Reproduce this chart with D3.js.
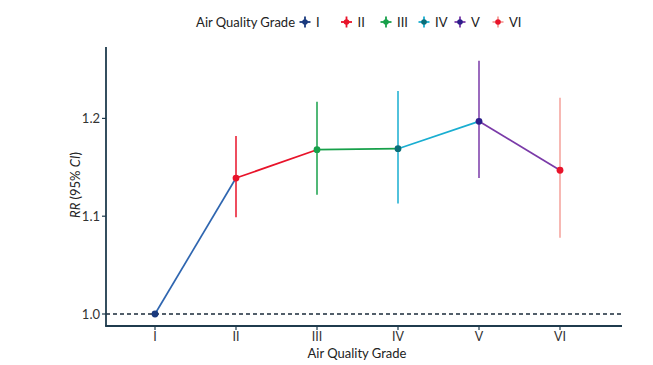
<!DOCTYPE html>
<html><head><meta charset="utf-8">
<script src="https://cdn.jsdelivr.net/npm/d3@7"></script>
<style>body{margin:0;background:#fff}svg{display:block}text{font-family:Lato,"Open Sans",sans-serif}</style>
</head><body><svg id="c" width="653" height="365"></svg>
<script>
const grades = ["I","II","III","IV","V","VI"];
const rr = [1.000, 1.139, 1.168, 1.169, 1.197, 1.147];
const lower = [1.000, 1.099, 1.122, 1.113, 1.139, 1.078];
const upper = [1.000, 1.182, 1.217, 1.228, 1.259, 1.221];
const yTicks = [1.0, 1.1, 1.2];
const ciColors = ["#1a3a7e","#e8132a","#17a04a","#19aed1","#7a3aa8","#f5a09a"];
const pointColors = ["#1a3a7e","#e8132a","#17a04a","#0a6e78","#2c1e8a","#e8132a"];
const segColors = ["#2f66b0","#e8132a","#17a04a","#19aed1","#7a3aa8"];

const svg = d3.select("#c");
const axisColor = "#1f3b4d";
const x = d3.scalePoint().domain(grades).range([155, 560]);
const y = d3.scaleLinear().domain([1.0, 1.2]).range([314, 118.4]);
const xLeft = 106, xRight = 622, yTop = 47, yBottom = 326;

// reference line
svg.append("line").attr("x1", xLeft).attr("x2", xRight).attr("y1", y(1)).attr("y2", y(1))
  .attr("stroke", "#1a2a3a").attr("stroke-width", 1.6).attr("stroke-dasharray", "4,3");

// axes lines
svg.append("line").attr("x1", xLeft).attr("x2", xLeft).attr("y1", yTop).attr("y2", yBottom)
  .attr("stroke", axisColor).attr("stroke-width", 1.8);
svg.append("line").attr("x1", xLeft - 0.9).attr("x2", xRight).attr("y1", yBottom).attr("y2", yBottom)
  .attr("stroke", axisColor).attr("stroke-width", 1.8);

// y ticks
yTicks.forEach(t => {
  svg.append("line").attr("x1", xLeft - 4).attr("x2", xLeft).attr("y1", y(t)).attr("y2", y(t))
    .attr("stroke", axisColor).attr("stroke-width", 1.2);
  svg.append("text").attr("x", xLeft - 6).attr("y", y(t)).attr("dy", "0.35em")
    .attr("text-anchor", "end").attr("font-size", 13).attr("fill", "#333").text(d3.format(".1f")(t));
});
// x ticks
grades.forEach(g => {
  svg.append("line").attr("x1", x(g)).attr("x2", x(g)).attr("y1", yBottom).attr("y2", yBottom + 4)
    .attr("stroke", axisColor).attr("stroke-width", 1.2);
  svg.append("text").attr("x", x(g)).attr("y", yBottom + 15).attr("text-anchor", "middle")
    .attr("font-size", 12.5).attr("fill", "#333").text(g);
});

// axis titles
svg.append("text").attr("x", 357).attr("y", 358).attr("text-anchor", "middle")
  .attr("font-size", 13).attr("fill", "#222").text("Air Quality Grade");
const yt = svg.append("text").attr("transform", "translate(80,185) rotate(-90)")
  .attr("text-anchor", "middle").attr("font-size", 13).attr("fill", "#222");
yt.append("tspan").attr("font-style", "italic").text("RR");
yt.append("tspan").text(" (95% ");
yt.append("tspan").attr("font-style", "italic").text("CI");
yt.append("tspan").text(")");

// segments
for (let i = 0; i < grades.length - 1; i++) {
  svg.append("line").attr("x1", x(grades[i])).attr("y1", y(rr[i]))
    .attr("x2", x(grades[i+1])).attr("y2", y(rr[i+1]))
    .attr("stroke", segColors[i]).attr("stroke-width", 1.7);
}
// CIs
grades.forEach((g, i) => {
  if (upper[i] !== lower[i])
    svg.append("line").attr("x1", x(g)).attr("x2", x(g)).attr("y1", y(lower[i])).attr("y2", y(upper[i]))
      .attr("stroke", ciColors[i]).attr("stroke-width", 1.5);
});
// points
grades.forEach((g, i) => {
  svg.append("circle").attr("cx", x(g)).attr("cy", y(rr[i])).attr("r", 3.4).attr("fill", pointColors[i]);
});

// legend
const lg = svg.append("g");
const ly = 22;
lg.append("text").attr("x", 295).attr("y", ly).attr("dy", "0.35em").attr("text-anchor", "end")
  .attr("font-size", 13).attr("fill", "#222").text("Air Quality Grade");
const iconX = [305, 346.5, 386, 424, 460, 498];
grades.forEach((g, i) => {
  const cx = iconX[i];
  lg.append("line").attr("x1", cx - 5.5).attr("x2", cx + 5.5).attr("y1", ly).attr("y2", ly)
    .attr("stroke", ciColors[i]).attr("stroke-width", 1.8);
  lg.append("line").attr("x1", cx).attr("x2", cx).attr("y1", ly - 5.5).attr("y2", ly + 5.5)
    .attr("stroke", ciColors[i]).attr("stroke-width", 1.8);
  lg.append("circle").attr("cx", cx).attr("cy", ly).attr("r", 2.8).attr("fill", pointColors[i]);
  lg.append("text").attr("x", cx + 11).attr("y", ly).attr("dy", "0.35em")
    .attr("font-size", 13).attr("fill", "#222").text(g);
});
</script></body></html>
